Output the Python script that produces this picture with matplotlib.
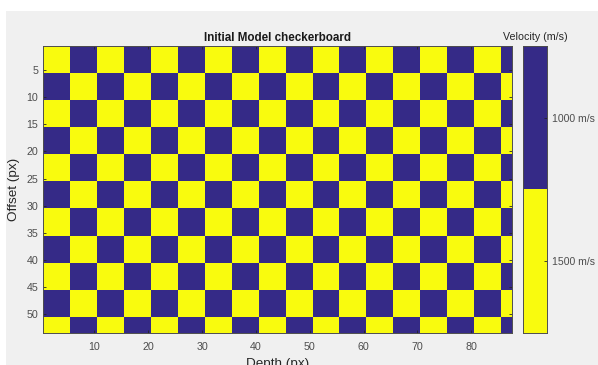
import numpy as np
import matplotlib
matplotlib.use("Agg")
import matplotlib.pyplot as plt
from matplotlib.colors import ListedColormap
from matplotlib.patches import Rectangle

plt.rcParams['font.family'] = ['Liberation Sans', 'DejaVu Sans']

# ---- data ----
velocities = [1500, 1000]          # value of "even" and "odd" squares
n_rows = 53                        # offset samples (px)
n_cols = 87                        # depth samples (px)
block = 5                          # checker square size (px)
x_ticks = [10, 20, 30, 40, 50, 60, 70, 80]
y_ticks = [5, 10, 15, 20, 25, 30, 35, 40, 45, 50]
cbar_values = [1000, 1500]
cbar_labels = ['1000 m/s', '1500 m/s']
title = 'Initial Model checkerboard'
xlabel = 'Depth (px)'
ylabel = 'Offset (px)'
cbar_title = 'Velocity (m/s)'

rr, cc = np.indices((n_rows, n_cols))
parity = ((rr // block) + (cc // block)) % 2
model = np.where(parity == 0, velocities[0], velocities[1])

blue = '#352a87'
yellow = '#f9fb0e'
cmap = ListedColormap([blue, yellow])
txt = '#262626'

W, H = 598, 365
fig = plt.figure(figsize=(W / 100, H / 100), dpi=100, facecolor='white')
fig.patches.append(Rectangle((6 / W, 0), 1, (H - 11) / H, transform=fig.transFigure,
                             facecolor='#f0f0f0', edgecolor='none', zorder=-10))

def fx(px):
    return px / W

def fy(py):
    return 1 - py / H

ax_l, ax_r, ax_t, ax_b = 43.3, 511.7, 46.0, 332.7
ax = fig.add_axes([fx(ax_l), fy(ax_b), fx(ax_r - ax_l), (ax_b - ax_t) / H])
ax.imshow(model, cmap=cmap, vmin=1000, vmax=1500, aspect='auto', interpolation='nearest',
          extent=(0.5, n_cols + 0.5, n_rows + 0.5, 0.5))
ax.set_xlim(0.5, n_cols + 0.5)
ax.set_ylim(n_rows + 0.5, 0.5)
ax.set_xticks(x_ticks)
ax.set_yticks(y_ticks)
ax.tick_params(direction='in', length=2.5, width=0.6, color=txt, labelcolor='#4d4d4d',
               labelsize=7.7, top=True, right=True)
ax.tick_params(axis='x', pad=6.5)
ax.tick_params(axis='y', pad=3.5)
for s in ax.spines.values():
    s.set_color('#4d4d4d')
    s.set_linewidth(0.7)

fig.text(fx((ax_l + ax_r) / 2), fy(40.7), title, ha='center', va='baseline',
         fontsize=8.4, fontweight='bold', color='#1a1a1a')
fig.text(fx((ax_l + ax_r) / 2), fy(357.5), xlabel, ha='center', va='top',
         fontsize=9.7, color='#262626')
fig.text(fx(13.7), fy(189.3), ylabel, ha='center', va='center', rotation=90,
         fontsize=9.7, color='#262626')

# ---- colorbar ----
cb_l, cb_r = 523.3, 546.7
cax = fig.add_axes([fx(cb_l), fy(ax_b), fx(cb_r - cb_l), (ax_b - ax_t) / H])
cbar_img = np.array(cbar_values).reshape(-1, 1)
cax.imshow(cbar_img, cmap=cmap, vmin=1000, vmax=1500, aspect='auto', interpolation='nearest',
           extent=(0, 1, len(cbar_values), 0))
cax.set_xlim(0, 1)
cax.set_ylim(len(cbar_values), 0)
cax.set_xticks([])
cax.set_yticks([i + 0.5 for i in range(len(cbar_values))])
cax.set_yticklabels(cbar_labels)
cax.yaxis.tick_right()
cax.tick_params(axis='y', direction='in', length=2.5, width=0.6, color=txt,
                labelcolor='#4d4d4d', labelsize=7.6, pad=4, left=False, right=True)
for s in cax.spines.values():
    s.set_color('#4d4d4d')
    s.set_linewidth(0.7)
fig.text(fx(535), fy(40), cbar_title, ha='center', va='baseline', fontsize=7.7, color='#262626')

fig.savefig('out.png', dpi=100, facecolor=fig.get_facecolor())
